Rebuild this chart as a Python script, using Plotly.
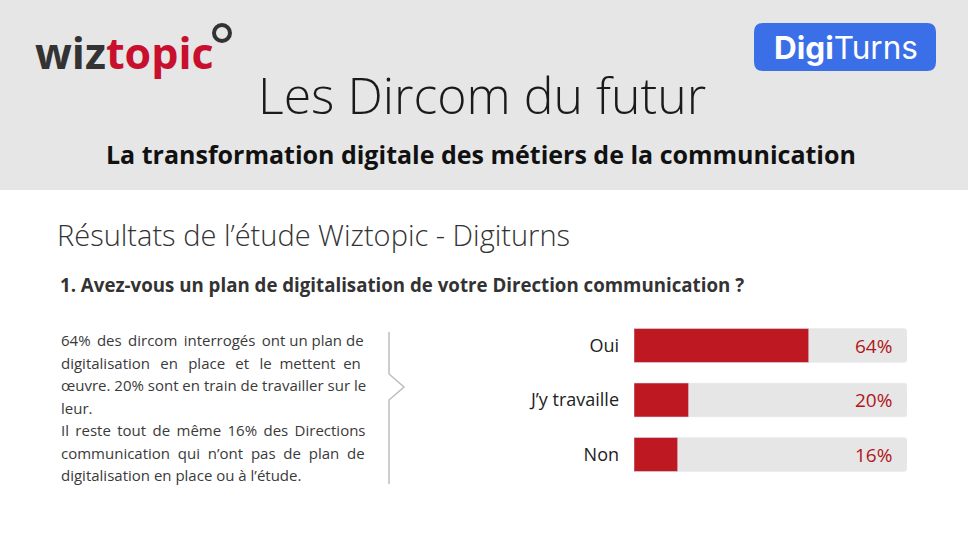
import plotly.graph_objects as go

W, H = 968, 543

# survey answers and shares (percent)
answers = ["Oui", "J’y travaille", "Non"]
shares = [64, 20, 16]
track = [100, 100, 100]

title = "Les Dircom du futur"
subtitle = "La transformation digitale des métiers de la communication"
section = "Résultats de l’étude Wiztopic - Digiturns"
question = "1. Avez-vous un plan de digitalisation de votre Direction communication ?"
# justified paragraph, padded by hand with thin spaces
T = "\u2009"
body_lines = [
    f"64%{T} des{T} dircom{T} interrogés{T} ont un plan de",
    f"digitalisation {T} en {T} place {T} et {T} le  mettent  en",
    "œuvre. 20% sont en train de travailler sur le",
    "leur.",
    f"Il{T} reste{T} tout{T} de{T} même{T} 16%{T} des{T} Directions",
    "communication  qui  n’ont  pas  de  plan  de",
    "digitalisation en place ou à l’étude.",
]

RED = "#be1823"
GREY = "#e6e6e6"
DARK = "#222222"


def px(x):
    return x / W


def py(y):
    return 1 - y / H


fig = go.Figure()
fig.add_trace(go.Bar(y=answers, x=track, orientation="h", marker=dict(color=GREY, cornerradius=3),
                     width=0.624, hoverinfo="skip", showlegend=False))
fig.add_trace(go.Bar(y=answers, x=shares, orientation="h", marker=dict(color=RED, cornerradius=2),
                     width=0.624, showlegend=False))

for a, s in zip(answers, shares):
    fig.add_annotation(x=100, y=a, xref="x", yref="y", text=f"{s}%", showarrow=False,
                       xanchor="right", xshift=-13, font=dict(family="Open Sans", size=19, color="#b01620"))

shapes = [
    dict(type="rect", xref="paper", yref="paper", x0=0, x1=1, y0=py(190), y1=1,
         fillcolor=GREY, line_width=0, layer="below"),
]

# DigiTurns badge (rounded rect)
bx0, bx1, by0, by1, r = 754, 936, 23, 71, 9
path = (f"M{px(bx0 + r)},{py(by0)} L{px(bx1 - r)},{py(by0)} Q{px(bx1)},{py(by0)} {px(bx1)},{py(by0 + r)} "
        f"L{px(bx1)},{py(by1 - r)} Q{px(bx1)},{py(by1)} {px(bx1 - r)},{py(by1)} "
        f"L{px(bx0 + r)},{py(by1)} Q{px(bx0)},{py(by1)} {px(bx0)},{py(by1 - r)} "
        f"L{px(bx0)},{py(by0 + r)} Q{px(bx0)},{py(by0)} {px(bx0 + r)},{py(by0)} Z")
shapes.append(dict(type="path", xref="paper", yref="paper", path=path, fillcolor="#3a6fe8", line_width=0))

# logo ring
shapes.append(dict(type="circle", xref="paper", yref="paper", x0=px(214), x1=px(230), y0=py(41), y1=py(25),
                   line=dict(color="#333333", width=4)))

# divider with chevron
div = (f"M{px(389)},{py(332)} L{px(389)},{py(374)} L{px(404)},{py(387)} "
       f"L{px(389)},{py(400)} L{px(389)},{py(484)}")
shapes.append(dict(type="path", xref="paper", yref="paper", path=div, line=dict(color="#bdbdbd", width=1.5)))

fig.update_layout(shapes=shapes)


def note(x, y, text, size, color=DARK, weight=400, anchor="left", family="Open Sans"):
    fig.add_annotation(x=px(x), y=py(y), xref="paper", yref="paper", text=text, showarrow=False,
                       xanchor=anchor, yanchor="middle",
                       font=dict(family=family, size=size, color=color, weight=weight))


note(33, 53, "<b>wiz</b><b><span style='color:#c8102e'>topic</span></b>", 43, color="#333333", weight=800)
note(846, 47, "<b>Digi</b>Turns", 31.5, color="white", anchor="center", family="Inter")
note(482, 95, title, 50, color="#1a1a1a", weight=300, anchor="center")
note(481, 154, subtitle, 25, color="#111111", weight=700, anchor="center")
note(55, 234, section, 29, color="#333333", weight=300)
note(58, 284, question, 18.7, color="#333333", weight=700)

for i, line in enumerate(body_lines):
    note(59, 340 + i * 22.5, line, 15, color="#3a3a3a")

fig.update_layout(
    width=W, height=H,
    margin=dict(l=0, r=0, t=0, b=0),
    paper_bgcolor="white",
    plot_bgcolor="rgba(0,0,0,0)",
    barmode="overlay",
    xaxis=dict(domain=[px(634), px(907)], range=[0, 100], visible=False, fixedrange=True),
    yaxis=dict(domain=[py(481.75), py(318.25)], autorange="reversed", showgrid=False, zeroline=False,
               showline=False, ticks="", ticklabelstandoff=14, fixedrange=True,
               tickfont=dict(family="Open Sans", size=18, color=DARK)),
)

fig.write_html("out.html", config={"displayModeBar": False},
               post_script="document.body.style.margin='0';document.body.style.overflow='hidden';")
